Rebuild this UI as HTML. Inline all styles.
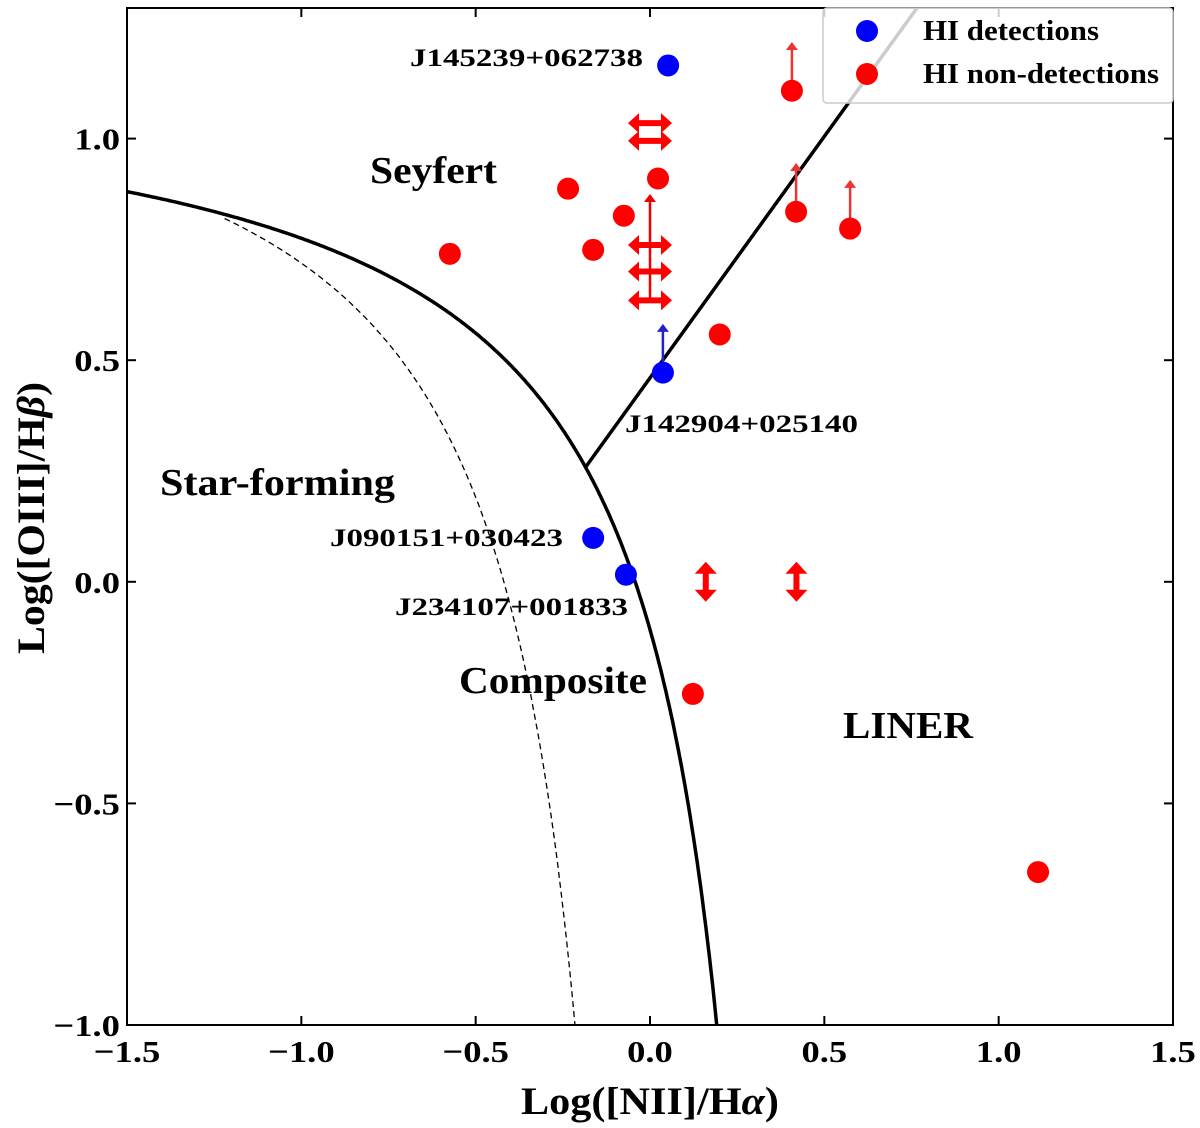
<!DOCTYPE html>
<html><head><meta charset="utf-8">
<style>
body{margin:0;background:#fff}
svg{display:block;font-family:"Liberation Serif",serif;font-weight:bold}
</style></head><body>
<svg id="chart" width="1200" height="1128" viewBox="0 0 1200 1128" xmlns="http://www.w3.org/2000/svg">
<defs>
<clipPath id="clip"><rect x="127" y="8" width="1046" height="1017"/></clipPath>
</defs>
<g id="plot" clip-path="url(#clip)"></g>
<g id="axes"></g>
</svg>
<script>
const xTicks=[-1.5,-1.0,-0.5,0.0,0.5,1.0,1.5];
const xTickLabels=["\u22121.5","\u22121.0","\u22120.5","0.0","0.5","1.0","1.5"];
const yTicks=[-1.0,-0.5,0.0,0.5,1.0];
const yTickLabels=["\u22121.0","\u22120.5","0.0","0.5","1.0"];
const detX=[0.052,0.037,-0.163,-0.069];
const detY=[1.165,0.472,0.099,0.016];
const detUp=[0,0.11,0,0];
const detLabels=["J145239+062738","J142904+025140","J090151+030423","J234107+001833"];
const nonX=[-0.574,-0.235,-0.163,-0.075,0.023,0.407,0.419,0.574,0.2,0.123,1.113];
const nonY=[0.74,0.887,0.749,0.826,0.91,1.108,0.835,0.797,0.558,-0.253,-0.655];
const nonUp=[0,0,0,0,0,0.11,0.11,0.11,0,0,0];
const hArrX=[0.0,0.0,0.0,0.0,0.0];
const hArrY=[1.035,0.995,0.76,0.70,0.635];
const vArrX=[0.16,0.42];
const vArrY=[0.0,0.0];
const upOnlyX=[0.0];
const upOnlyY=[0.635];
const upOnlyLen=[0.24];

const X0=127,X1=1173,Y0=8,Y1=1025;
const xs=v=>X0+(v+1.5)/3*(X1-X0);
const ys=v=>1025-(v+1.0)*443.2;
const NS="http://www.w3.org/2000/svg";
const plot=document.getElementById('plot'),axes=document.getElementById('axes');
function mk(tag,attrs,parent){const e=document.createElementNS(NS,tag);for(const k in attrs)e.setAttribute(k,attrs[k]);parent.appendChild(e);return e;}
function stretch(el,f){const L=el.getComputedTextLength();el.setAttribute('textLength',(L*f).toFixed(1));el.setAttribute('lengthAdjust','spacingAndGlyphs');}

let d="";for(let x=-1.5;x<=0.2;x+=0.005){const y=0.61/(x-0.47)+1.19;d+=(d?"L":"M")+xs(x).toFixed(1)+","+ys(y).toFixed(1);}
let p=mk('path',{d:d,fill:'none',stroke:'#000','stroke-width':3.5},plot);

d="";for(let x=-1.22;x<=-0.21;x+=0.004){const y=0.61/(x-0.05)+1.3;d+=(d?"L":"M")+xs(x).toFixed(1)+","+ys(y).toFixed(1);}
p=mk('path',{d:d,fill:'none',stroke:'#000','stroke-width':1.3,'stroke-dasharray':'6,4'},plot);

p=mk('line',{x1:xs(-0.186),y1:ys(1.09*-0.186+0.46),x2:xs(0.9),y2:ys(1.09*0.9+0.46),stroke:'#000','stroke-width':3.5},plot);


function upArrow(x,y,len,col,name){
 const px=xs(x),py=ys(y),ty=ys(y+len);
 const g=mk('g',{},plot);
 
 mk('line',{x1:px,y1:py,x2:px,y2:ty+6,stroke:col,'stroke-width':2.5},g);
 mk('path',{d:`M${px-6},${ty+8}L${px},${ty}L${px+6},${ty+8}Z`,fill:col},g);
}
function hArrow(x,y,name){
 const px=xs(x),py=ys(y);
 const g=mk('g',{},plot);
 
 mk('line',{x1:px-14,y1:py,x2:px+14,y2:py,stroke:'#f00','stroke-width':6},g);
 mk('path',{d:`M${px-11},${py-10}L${px-22},${py}L${px-11},${py+10}Z`,fill:'#f00'},g);
 mk('path',{d:`M${px+11},${py-10}L${px+22},${py}L${px+11},${py+10}Z`,fill:'#f00'},g);
}
function vArrow(x,y,name){
 const px=xs(x),py=ys(y);
 const g=mk('g',{},plot);
 
 mk('line',{x1:px,y1:py-12,x2:px,y2:py+12,stroke:'#f00','stroke-width':6},g);
 mk('path',{d:`M${px-11},${py-8}L${px},${py-20}L${px+11},${py-8}Z`,fill:'#f00'},g);
 mk('path',{d:`M${px-11},${py+8}L${px},${py+20}L${px+11},${py+8}Z`,fill:'#f00'},g);
}
hArrX.forEach((x,i)=>hArrow(x,hArrY[i],'limit-marker-h'));
upOnlyX.forEach((x,i)=>upArrow(x,upOnlyY[i],upOnlyLen[i],'#e00','upper-limit-arrow'));
vArrX.forEach((x,i)=>vArrow(x,vArrY[i],'limit-marker-v'));
nonX.forEach((x,i)=>{
 if(nonUp[i])upArrow(x,nonY[i],nonUp[i],'#e33','non-detection-arrow');
 const c=mk('circle',{cx:xs(x),cy:ys(nonY[i]),r:11,fill:'#f00'},plot);
 
});
detX.forEach((x,i)=>{
 if(detUp[i])upArrow(x,detY[i],detUp[i],'#22c','detection-arrow');
 const c=mk('circle',{cx:xs(x),cy:ys(detY[i]),r:11,fill:'#00f'},plot);
 
});
const labPos=[[410,66],[625,432],[330,546],[395,615]];
detLabels.forEach((t,i)=>{
 const e=mk('text',{x:labPos[i][0],y:labPos[i][1],'font-size':25},plot);e.textContent=t;
 
 e.setAttribute('textLength',233);e.setAttribute('lengthAdjust','spacingAndGlyphs');
});
[["Seyfert",370,183,127],["Star-forming",160,495,235],["Composite",459,693,188],["LINER",843,738,130]].forEach(r=>{
 const e=mk('text',{x:r[1],y:r[2],'font-size':38},plot);e.textContent=r[0];
 
 e.setAttribute('textLength',r[3]);e.setAttribute('lengthAdjust','spacingAndGlyphs');
});
let f=mk('rect',{x:X0,y:Y0,width:X1-X0,height:Y1-Y0,fill:'none',stroke:'#000','stroke-width':2},axes);

xTicks.forEach((v,i)=>{
 const x=xs(v);
 mk('line',{x1:x,y1:Y1,x2:x,y2:Y1-9,stroke:'#000','stroke-width':2},axes);
 mk('line',{x1:x,y1:Y0,x2:x,y2:Y0+9,stroke:'#000','stroke-width':2},axes);
 const t=mk('text',{x:x,y:1062,'font-size':31,'text-anchor':'middle'},axes);t.textContent=xTickLabels[i];
 
 stretch(t,1.18);
});
yTicks.forEach((v,i)=>{
 const y=ys(v);
 mk('line',{x1:X0,y1:y,x2:X0+9,y2:y,stroke:'#000','stroke-width':2},axes);
 mk('line',{x1:X1,y1:y,x2:X1-9,y2:y,stroke:'#000','stroke-width':2},axes);
 const t=mk('text',{x:120,y:y+11,'font-size':31,'text-anchor':'end'},axes);t.textContent=yTickLabels[i];
 
 stretch(t,1.18);
});
let t=mk('text',{x:650,y:1114,'font-size':39,'text-anchor':'middle'},axes);
t.innerHTML='Log([NII]/H<tspan font-style="italic">α</tspan>)';

t.setAttribute('textLength',258);t.setAttribute('lengthAdjust','spacingAndGlyphs');
t=mk('text',{x:0,y:0,'font-size':39,'text-anchor':'middle',transform:'translate(44,518) rotate(-90)'},axes);
t.innerHTML='Log([OIII]/H<tspan font-style="italic">β</tspan>)';

t.setAttribute('textLength',272);t.setAttribute('lengthAdjust','spacingAndGlyphs');
const lg=mk('g',{},axes);

mk('rect',{x:823,y:8,width:350,height:95,rx:4,fill:'rgba(255,255,255,0.8)',stroke:'#ccc','stroke-width':1.5},lg);
mk('circle',{cx:867,cy:31,r:11,fill:'#00f'},lg);
mk('circle',{cx:867,cy:74,r:11,fill:'#f00'},lg);
t=mk('text',{x:923,y:40,'font-size':28},lg);t.textContent='HI detections';

t.setAttribute('textLength',176);t.setAttribute('lengthAdjust','spacingAndGlyphs');
t=mk('text',{x:923,y:83,'font-size':28},lg);t.textContent='HI non-detections';

t.setAttribute('textLength',236);t.setAttribute('lengthAdjust','spacingAndGlyphs');
</script>
</body></html>
